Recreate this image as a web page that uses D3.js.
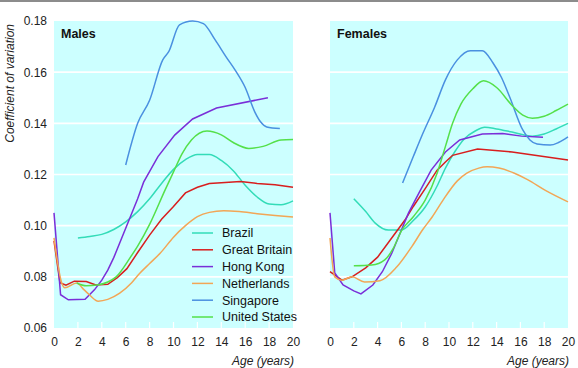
<!DOCTYPE html>
<html><head><meta charset="utf-8">
<script src="https://cdn.jsdelivr.net/npm/d3@7"></script>
<style>
html,body{margin:0;padding:0;background:#fff;}
svg text{font-family:"Liberation Sans Narrow","Liberation Sans",Arial,sans-serif;}
</style></head>
<body>
<svg id="chart" width="578" height="368"></svg>
<script>
// ---- Data ----
const countries = ["Brazil","Great Britain","Hong Kong","Netherlands","Singapore","United States"];
const colors = ["#33dcb8","#d81e1e","#7a2fd8","#f2a656","#4a90e0","#55e04a"];
const panels = ["Males","Females"];
const xTicks = [0,2,4,6,8,10,12,14,16,18,20];
const yTicks = [0.06,0.08,0.10,0.12,0.14,0.16,0.18];
const yLabel = "Coefficient of variation";
const xLabel = "Age (years)";

// Males: [age, coefficient of variation]
const maleBrazil = [[2,0.0952],[3,0.0958],[4,0.0966],[5,0.0985],[6,0.1015],[7,0.1055],[8,0.1105],[9,0.1165],[10,0.122],[11,0.1258],[12,0.1278],[13,0.1278],[14,0.1255],[15,0.1215],[16,0.1158],[17,0.1112],[18,0.1085],[19,0.1082],[20,0.1097]];
const maleGB = [[0,0.094],[0.5,0.0777],[1,0.0767],[1.7,0.0783],[2.7,0.0782],[3.5,0.0768],[4.5,0.0771],[5.3,0.0797],[6.1,0.0832],[7,0.0895],[8,0.0963],[9,0.1025],[10,0.1075],[11,0.1128],[12,0.115],[13,0.1165],[14,0.1168],[15.6,0.1173],[17,0.1165],[18.5,0.116],[20,0.115]];
const maleHK = [[0,0.105],[0.55,0.073],[1.2,0.071],[2.6,0.0712],[3.4,0.075],[4,0.0787],[4.5,0.0826],[5,0.0875],[6,0.099],[7,0.1105],[7.5,0.117],[8.7,0.127],[10.1,0.1354],[11.6,0.1417],[13.6,0.146],[17.9,0.150]];
const maleNL = [[0,0.0952],[0.65,0.0776],[0.9,0.0757],[1.9,0.0776],[2.5,0.075],[3,0.0728],[3.7,0.0705],[4.5,0.0712],[5.5,0.0736],[6.5,0.0777],[7.2,0.0815],[8,0.0852],[8.9,0.0893],[10,0.0955],[11,0.1],[12,0.1035],[13,0.1052],[14.2,0.1058],[15.5,0.1055],[17,0.1047],[18.5,0.104],[20,0.1034]];
const maleSG = [[6,0.1237],[7,0.140],[8,0.149],[9.1,0.1648],[9.6,0.168],[10.5,0.1785],[11.6,0.1800],[12.5,0.179],[13.5,0.1725],[14.4,0.166],[15.2,0.1605],[16,0.154],[16.8,0.1445],[17.3,0.1405],[17.8,0.1386],[18.9,0.138]];
const maleUS = [[1.9,0.0776],[2.7,0.0765],[3.6,0.0768],[4.5,0.078],[5.2,0.080],[6.4,0.0877],[7,0.092],[8,0.1005],[9.3,0.114],[10,0.121],[10.7,0.128],[11.5,0.1335],[12.8,0.137],[14,0.1355],[15,0.1325],[16.3,0.1302],[17.5,0.131],[19,0.1335],[20,0.1337]];

// Females
const femBrazil = [[2,0.1105],[3,0.1055],[3.8,0.101],[4.9,0.0983],[6,0.0983],[7,0.102],[8,0.1073],[9,0.1155],[9.7,0.1225],[10.5,0.129],[11.3,0.134],[12.2,0.137],[13,0.1385],[14,0.1378],[15.3,0.1366],[17,0.135],[18,0.1358],[19,0.1378],[20,0.140]];
const femGB = [[0,0.082],[1,0.0787],[1.85,0.080],[3,0.0835],[4,0.0877],[5,0.094],[6.3,0.1022],[7,0.1075],[8,0.1145],[9,0.1217],[9.7,0.1249],[10.3,0.1275],[12.4,0.130],[15.3,0.1288],[20,0.1257]];
const femHK = [[0,0.105],[0.4,0.0815],[1.1,0.0768],[2,0.0745],[2.6,0.0733],[3.6,0.0768],[4.4,0.082],[5.2,0.0893],[6.6,0.105],[7.5,0.113],[8.5,0.1217],[9.7,0.1288],[10.9,0.1335],[12.8,0.1358],[14.5,0.136],[16.1,0.135],[17.9,0.1346]];
const femNL = [[0,0.0952],[0.4,0.080],[1,0.0787],[1.85,0.080],[2.9,0.078],[4.2,0.0785],[5.6,0.0838],[6.9,0.092],[7.8,0.0985],[8.6,0.1035],[9.5,0.110],[10.7,0.1175],[11.5,0.1205],[12.5,0.1225],[13.2,0.123],[14.2,0.1225],[15.5,0.1205],[16.6,0.118],[18.1,0.1138],[20,0.1093]];
const femSG = [[6.1,0.1167],[7,0.127],[7.8,0.136],[8.8,0.1464],[9.7,0.157],[10.7,0.1648],[11.8,0.1684],[12.8,0.1684],[13.7,0.1636],[14.4,0.158],[15.1,0.1503],[16.2,0.1374],[16.8,0.1335],[17.4,0.1319],[18.5,0.1315],[19.2,0.1325],[20,0.1347]];
const femUS = [[2,0.0843],[3.5,0.0846],[4.6,0.0866],[5.3,0.091],[6,0.098],[7,0.1035],[8,0.110],[9,0.1205],[9.7,0.131],[10.3,0.140],[11,0.1475],[12,0.1535],[12.9,0.1566],[14,0.154],[15.3,0.147],[16.2,0.1432],[17,0.142],[18,0.1428],[19,0.145],[20,0.1475]];

const panelSeries = [
  [maleBrazil, maleGB, maleHK, maleNL, maleSG, maleUS],
  [femBrazil, femGB, femHK, femNL, femSG, femUS]
];
const curves = [d3.curveMonotoneX, d3.curveLinear, d3.curveLinear, d3.curveMonotoneX, d3.curveMonotoneX, d3.curveMonotoneX];

// ---- Layout ----
const svg = d3.select("#chart");
const W = 578, H = 368;
const plotTop = 21, plotBottom = 328;
const panelX = [[54, 293], [330, 568]];
const y = d3.scaleLinear().domain([0.06, 0.18]).range([plotBottom, plotTop]);
const FONT = '"Liberation Sans Narrow","Liberation Sans",Arial,sans-serif';

svg.append("rect").attr("x",0).attr("y",0).attr("width",W).attr("height",2).attr("fill","#8c8c8c");

panels.forEach((name, pi) => {
  const x = d3.scaleLinear().domain([0, 20]).range(panelX[pi]);
  const g = svg.append("g");
  g.append("rect").attr("x", panelX[pi][0]).attr("y", plotTop)
    .attr("width", panelX[pi][1] - panelX[pi][0]).attr("height", plotBottom - plotTop)
    .attr("fill", "#ccffff");
  g.selectAll(".grid").data(yTicks.filter(t => t > 0.061 && t < 0.179)).join("line")
    .attr("x1", panelX[pi][0]).attr("x2", panelX[pi][1])
    .attr("y1", d => y(d)).attr("y2", d => y(d))
    .attr("stroke", "#fff").attr("stroke-width", 1.6);
  g.selectAll(".tk").data(xTicks.slice(1, -1)).join("line")
    .attr("x1", d => x(d)).attr("x2", d => x(d))
    .attr("y1", plotBottom).attr("y2", plotBottom - 6)
    .attr("stroke", "#fff").attr("stroke-width", 1.2);
  const xa = g.append("g").attr("transform", `translate(0,${plotBottom})`)
    .call(d3.axisBottom(x).tickValues(xTicks).tickSize(0).tickPadding(9).tickFormat(d3.format("d")));
  xa.select(".domain").remove();
  xa.selectAll("text").attr("font-size", 12).attr("fill", "#222").style("font-family", FONT);
  g.append("text").attr("x", panelX[pi][1] + 1).attr("y", 365)
    .attr("text-anchor", "end").attr("font-size", 12).attr("font-style", "italic")
    .attr("fill", "#222").text(xLabel);
  g.append("text").attr("x", panelX[pi][0] + 7).attr("y", 38)
    .attr("font-size", 12.5).attr("font-weight", "bold").attr("fill", "#111").text(name);
  const line = d3.line().x(d => x(d[0])).y(d => y(d[1]));
  panelSeries[pi].forEach((s, si) => {
    g.append("path").datum(s)
      .attr("d", line.curve(curves[si]))
      .attr("fill", "none").attr("stroke", colors[si]).attr("stroke-width", 1.5);
  });
  if (pi === 0) {
    const ya = svg.append("g").attr("transform", `translate(${panelX[0][0]},0)`)
      .call(d3.axisLeft(y).tickValues(yTicks).tickSize(0).tickPadding(7).tickFormat(d3.format(".2f")));
    ya.select(".domain").remove();
    ya.selectAll("text").attr("font-size", 12).attr("fill", "#222").style("font-family", FONT);
    svg.append("text").attr("transform", "translate(14,24) rotate(-90)")
      .attr("text-anchor", "end").attr("font-size", 12).attr("font-style", "italic")
      .attr("fill", "#222").text(yLabel);
    const ly = d3.scalePoint().domain(countries).range([233, 317]);
    const lg = svg.append("g");
    countries.forEach((c, i) => {
      lg.append("line").attr("x1", 192).attr("x2", 213)
        .attr("y1", ly(c)).attr("y2", ly(c))
        .attr("stroke", colors[i]).attr("stroke-width", 1.5);
      lg.append("text").attr("x", 222).attr("y", ly(c)).attr("dy", "0.35em")
        .attr("font-size", 12.5).attr("fill", "#111").text(c);
    });
  }
});
</script>
</body></html>
